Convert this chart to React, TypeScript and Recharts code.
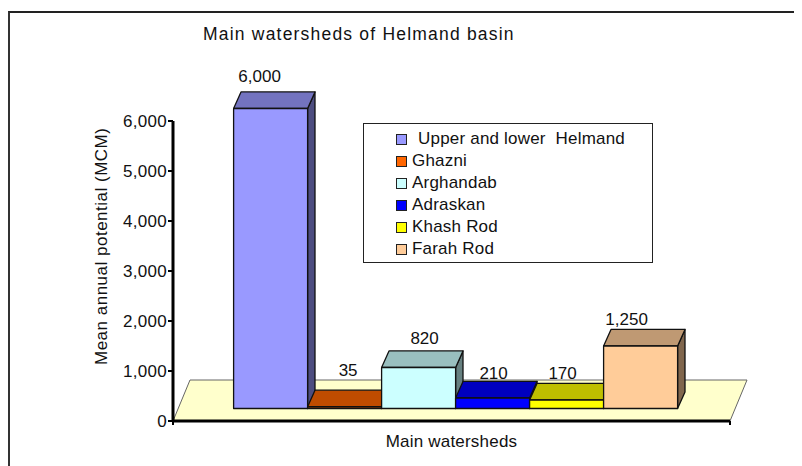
import { Bar, BarChart, LabelList, Legend, ReferenceArea, XAxis, YAxis } from 'recharts';

const categories = ['Main watersheds'];
const watersheds = ['Upper and lower  Helmand', 'Ghazni', 'Arghandab', 'Adraskan', 'Khash Rod', 'Farah Rod'];
const potentials = [6000, 35, 820, 210, 170, 1250];
const fronts = ['#9999ff', '#ff6600', '#ccffff', '#0000ff', '#ffff00', '#ffcc99'];
const tops = ['#7373bf', '#bf4c00', '#99bfbf', '#0000bf', '#bfbf00', '#bf9973'];
const sides = ['#4d4d80', '#803300', '#668080', '#000080', '#808000', '#80664d'];
const yTicks = [0, 1000, 2000, 3000, 4000, 5000, 6000];
const FLOOR_VALUE = 820;

// label nudges, the original labels were placed by hand
const labelDx = [-11, 3.5, 6, 1, -4, -14];
const labelDy = [-9.5, -14, -6.5, -2, -4.7, -4];

const data = categories.map((name) => {
  const row: Record<string, string | number> = { name };
  watersheds.forEach((w, i) => { row[w] = potentials[i]; });
  return row;
});

const fmt = (v: number) => v.toLocaleString('en-US');

const DX = 4.9;
const DY = -12.5;
const DEPTH_X = 7.4;
const DEPTH_Y = -16.6;

function Box3D(props: any) {
  const { x, y, width, height, front, top, side } = props;
  const l = x + DX;
  const r = l + width;
  const t = y + DY;
  const b = t + height;
  return (
    <g stroke="#111" strokeWidth={1.3} strokeLinejoin="round">
      <path d={`M${r},${t} L${r + DEPTH_X},${t + DEPTH_Y} L${r + DEPTH_X},${b + DEPTH_Y} L${r},${b} Z`} fill={side} />
      <path d={`M${l},${t} L${l + DEPTH_X},${t + DEPTH_Y} L${r + DEPTH_X},${t + DEPTH_Y} L${r},${t} Z`} fill={top} />
      <rect x={l} y={t} width={width} height={height} fill={front} />
    </g>
  );
}

function Floor(props: any) {
  const { x, y, width, height } = props;
  const b = y + height;
  return (
    <g>
      <path
        d={`M${x},${b} L${x + 17},${y} L${x + width + 17},${y} L${x + width},${b} Z`}
        fill="#ffffcc"
        stroke="#666"
        strokeWidth={1}
      />
      {/* end ticks of the x axis */}
      <path d={`M${x},${b} v4 M${x + width},${b} v4`} stroke="#000" strokeWidth={2} />
    </g>
  );
}

function ValueLabel(props: any) {
  const { x, y, width, value, idx } = props;
  return (
    <text
      x={x + width / 2 + DX + labelDx[idx]}
      y={y + DY + DEPTH_Y + labelDy[idx]}
      textAnchor="middle"
      fontSize={17}
      fill="#111"
    >
      {fmt(value)}
    </text>
  );
}

function LegendBox() {
  return (
    <div style={{ width: 290, height: 140, border: '1px solid #222', boxSizing: 'border-box', background: '#fff', paddingTop: 4, fontSize: 17, letterSpacing: 0.2, color: '#111' }}>
      {watersheds.map((w, i) => (
        <div key={w} style={{ height: 22, display: 'flex', alignItems: 'center', whiteSpace: 'pre' }}>
          <span style={{ width: 9, height: 9, marginLeft: 32, marginRight: i === 0 ? 11 : 5, border: '1px solid #222', background: fronts[i], display: 'inline-block' }} />
          {w}
        </div>
      ))}
    </div>
  );
}

export default function App() {
  return (
    <div style={{ position: 'relative', width: 794, height: 455, marginTop: 3, borderTop: '2px solid #222', borderLeft: '2px solid #333', boxSizing: 'border-box', fontFamily: '"Liberation Sans", Arial, sans-serif' }}>
      <div style={{ position: 'absolute', left: 193, top: 11, fontSize: 17.5, letterSpacing: 1.2, color: '#111', whiteSpace: 'nowrap' }}>
        Main watersheds of Helmand basin
      </div>
      <BarChart
        width={780}
        height={440}
        data={data}
        margin={{ top: 108, right: 60, bottom: 2, left: 103 }}
        barCategoryGap="10%"
        barGap={0}
      >
        <ReferenceArea y1={0} y2={FLOOR_VALUE} ifOverflow="visible" shape={<Floor />} />
        <XAxis
          dataKey="name"
          tick={{ fontSize: 17, fill: '#111', letterSpacing: 0.2 }}
          axisLine={{ stroke: '#000', strokeWidth: 3 }}
          tickLine={false}
          tickMargin={8}
        />
        <YAxis
          domain={[0, 6000]}
          ticks={yTicks}
          tickFormatter={fmt}
          width={60}
          tick={{ fontSize: 17, fill: '#111', letterSpacing: 0.3 }}
          axisLine={{ stroke: '#000', strokeWidth: 3 }}
          tickLine={{ stroke: '#000', strokeWidth: 2 }}
          tickSize={5}
          tickMargin={1}
          label={{ value: 'Mean annual potential (MCM)', angle: -90, position: 'insideLeft', dx: -17, dy: 94, fontSize: 17, letterSpacing: 0.5, fill: '#111' }}
        />
        <Legend
          content={<LegendBox />}
          layout="vertical"
          align="center"
          verticalAlign="middle"
          wrapperStyle={{ left: 353, top: 110, width: 290 }}
        />
        {watersheds.map((w, i) => (
          <Bar
            key={w}
            dataKey={w}
            isAnimationActive={false}
            fill={fronts[i]}
            shape={<Box3D front={fronts[i]} top={tops[i]} side={sides[i]} />}
          >
            <LabelList dataKey={w} content={<ValueLabel idx={i} />} />
          </Bar>
        ))}
      </BarChart>
    </div>
  );
}
